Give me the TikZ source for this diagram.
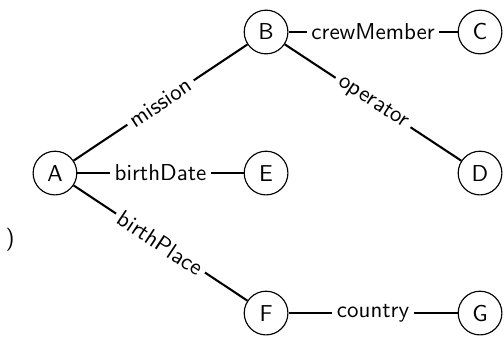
\documentclass[tikz,border=0pt]{standalone}
\usepackage{tikz}

\tikzset{
  entity/.style={draw, circle, line width=0.5pt, minimum size=19pt, inner sep=0pt, font=\sffamily},
  rel/.style={line width=0.9pt},
  rellabel/.style={fill=white, inner sep=2pt, font=\sffamily, midway}
}

\begin{document}
\begin{tikzpicture}
            \useasboundingbox (0.0, 0.0) rectangle (7.70, 5.165);

            \node[entity] (A) at (0.840, 2.521) {A};
            \node[entity] (B) at (4.065, 4.676) {B};
            \node[entity] (C) at (7.334, 4.676) {C};
            \node[entity] (D) at (7.334, 2.521) {D};
            \node[entity] (E) at (4.065, 2.521) {E};
            \node[entity] (F) at (4.065, 0.382) {F};
            \node[entity] (G) at (7.334, 0.382) {G};

            \draw[rel] (A) -- node[rellabel, sloped] {mission} (B);
            \draw[rel] (B) -- node[rellabel] {crewMember} (C);
            \draw[rel] (B) -- node[rellabel, sloped] {operator} (D);
            \draw[rel] (A) -- node[rellabel] {birthDate} (E);
            \draw[rel] (A) -- node[rellabel, sloped] {birthPlace} (F);
            \draw[rel] (F) -- node[rellabel] {country} (G);

            \node[font=\sffamily] (cut) at (0.153, 1.497) {)};
        \end{tikzpicture}
\end{document}
